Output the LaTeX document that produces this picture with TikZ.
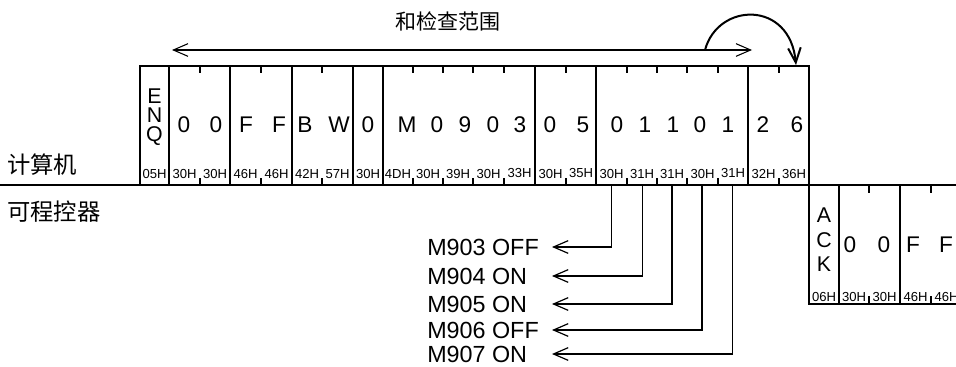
\documentclass[tikz,border=0pt]{standalone}
\usepackage{fontspec}
\setmainfont{Liberation Sans}
\newfontfamily\cjk{Noto Sans CJK SC}
\usetikzlibrary{arrows.meta}

\begin{document}
\begin{tikzpicture}[x=0.75pt, y=-0.75pt,
	every node/.style={inner sep=0pt},
	chr/.style={anchor=base, font=\fontsize{17}{17}\selectfont},
	tall/.style={anchor=base, font=\fontsize{16}{16}\selectfont},
	hex/.style={anchor=base, font=\fontsize{9.8}{10}\selectfont},
	lbl/.style={anchor=west, font=\fontsize{17.5}{18}\selectfont},
	side/.style={anchor=west, font=\cjk\fontsize{17.5}{18}\selectfont},
	frame/.style={line width=0.9pt},
	barb/.style={-{Straight Barb[length=11pt,width=9.5pt]}}]
	\useasboundingbox (0,0) rectangle (956,367);

	% sides and title
	\node[side] (pc) at (7,165) {计算机};
	\node[side] (plc) at (7,212) {可程控器};
	\node[font=\cjk\fontsize{15.75}{16}\selectfont] (sum) at (448,21) {和检查范围};

	% frame of the request
	\draw[frame] (140,66) rectangle (809,185);
	\draw[frame] (0,185) -- (960,185);
	\draw[frame] (169,66) -- (169,185);
	\draw[frame] (230,66) -- (230,185);
	\draw[frame] (292,66) -- (292,185);
	\draw[frame] (353,66) -- (353,185);
	\draw[frame] (383,66) -- (383,185);
	\draw[frame] (535,66) -- (535,185);
	\draw[frame] (596,66) -- (596,185);
	\draw[frame] (748,66) -- (748,185);
	\foreach \x in {200,261,322,413,443,473,504,566,627,657,687,718,779} {
		\draw[frame] (\x,66) -- (\x,73);
		\draw[frame] (\x,185) -- (\x,178);
	}

	% frame of the answer
	\draw[frame] (809,185) -- (809,304) -- (960,304);
	\draw[frame] (839,185) -- (839,304);
	\draw[frame] (900,185) -- (900,304);
	\foreach \x in {869,931} {
		\draw[frame] (\x,185) -- (\x,193);
		\draw[frame] (\x,304) -- (\x,296);
	}

	% characters of the request
	\node[tall] (e) at (154.5,104) {E};
	\node[tall] (n) at (154.5,123) {N};
	\node[tall] (q) at (154.5,142) {Q};
	\node[chr] (st1) at (184,133) {0};
	\node[chr] (st2) at (216,133) {0};
	\node[chr] (pc1) at (246,133) {F};
	\node[chr] (pc2) at (279,133) {F};
	\node[chr] (cmd1) at (305,133) {B};
	\node[chr] (cmd2) at (339,133) {W};
	\node[chr] (wt) at (368,133) {0};
	\node[chr] (hd1) at (407,133) {M};
	\node[chr] (hd2) at (437,133) {0};
	\node[chr] (hd3) at (465,133) {9};
	\node[chr] (hd4) at (493,133) {0};
	\node[chr] (hd5) at (520,133) {3};
	\node[chr] (num1) at (550,133) {0};
	\node[chr] (num2) at (583,133) {5};
	\node[chr] (bit1) at (617,133) {0};
	\node[chr] (bit2) at (645,133) {1};
	\node[chr] (bit3) at (673,133) {1};
	\node[chr] (bit4) at (700,133) {0};
	\node[chr] (bit5) at (728,133) {1};
	\node[chr] (sc1) at (763,133) {2};
	\node[chr] (sc2) at (797,133) {6};

	% hex codes of the request
	\node[hex] (h1) at (154.5,179) {05H};
	\node[hex] (h2) at (184.5,179) {30H};
	\node[hex] (h3) at (215,179) {30H};
	\node[hex] (h4) at (245.5,179) {46H};
	\node[hex] (h5) at (276.5,179) {46H};
	\node[hex] (h6) at (307,179) {42H};
	\node[hex] (h7) at (337.5,179) {57H};
	\node[hex] (h8) at (368,179) {30H};
	\node[hex] (h9) at (398,179) {4DH};
	\node[hex] (h10) at (428,179) {30H};
	\node[hex] (h11) at (458,179) {39H};
	\node[hex] (h12) at (488.5,179) {30H};
	\node[hex] (h13) at (519.5,178) {33H};
	\node[hex] (h14) at (550.5,179) {30H};
	\node[hex] (h15) at (581,178) {35H};
	\node[hex] (h16) at (611.5,179) {30H};
	\node[hex] (h17) at (642,179) {31H};
	\node[hex] (h18) at (672,179) {31H};
	\node[hex] (h19) at (702.5,179) {30H};
	\node[hex] (h20) at (733,178) {31H};
	\node[hex] (h21) at (763.5,179) {32H};
	\node[hex] (h22) at (794,179) {36H};

	% answer
	\node[tall] (a) at (824,222) {A};
	\node[tall] (c) at (824,247) {C};
	\node[tall] (k) at (824,271) {K};
	\node[chr] (as1) at (850,252) {0};
	\node[chr] (as2) at (884,252) {0};
	\node[chr] (ap1) at (913,252) {F};
	\node[chr] (ap2) at (946,252) {F};
	\node[hex] (g1) at (824,301) {06H};
	\node[hex] (g2) at (854,301) {30H};
	\node[hex] (g3) at (884.5,301) {30H};
	\node[hex] (g4) at (915.5,301) {46H};
	\node[hex] (g5) at (946.5,301) {46H};

	% range of the sum check
	\coordinate (sl) at (172,50);
	\coordinate (sr) at (752,50);
	\coordinate (cs) at (705,50);
	\coordinate (ce) at (796,65);
	\draw[line width=0.8pt, {Straight Barb[length=11pt,width=9.5pt]}-{Straight Barb[length=11pt,width=9.5pt]}] (sl) -- (sr);
	\draw[barb, line width=1.5pt] (cs) .. controls (718,2) and (790,0) .. (ce);

	% bits to devices
	\node[lbl] (m903) at (427,247) {M903 OFF};
	\node[lbl] (m904) at (427,276) {M904 ON};
	\node[lbl] (m905) at (427,304) {M905 ON};
	\node[lbl] (m906) at (427,330) {M906 OFF};
	\node[lbl] (m907) at (427,354) {M907 ON};
	\coordinate (b1) at (611.5,185);
	\coordinate (b2) at (642.5,185);
	\coordinate (b3) at (672,185);
	\coordinate (b4) at (702,185);
	\coordinate (b5) at (732.5,185);
	\coordinate (t1) at (552,247);
	\coordinate (t2) at (552,276);
	\coordinate (t3) at (552,304);
	\coordinate (t4) at (552,330);
	\coordinate (t5) at (552,354);
	\draw[barb, frame] (b1) |- (t1);
	\draw[barb, frame] (b2) |- (t2);
	\draw[barb, frame] (b3) |- (t3);
	\draw[barb, frame] (b4) |- (t4);
	\draw[barb, frame] (b5) |- (t5);
\end{tikzpicture}
\end{document}
